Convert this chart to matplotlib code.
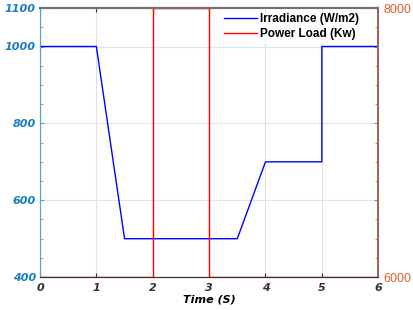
import matplotlib
matplotlib.use("Agg")
import matplotlib.pyplot as plt
from matplotlib.ticker import MultipleLocator
from matplotlib.font_manager import FontProperties

time_irr = [0, 1, 1.5, 3.5, 4, 5, 5, 6]
irradiance = [1000, 1000, 500, 500, 700, 700, 1000, 1000]
time_load = [0, 2, 2, 3, 3, 6]
power_load = [6000, 6000, 8000, 8000, 6000, 6000]

fig = plt.figure(figsize=(4.14, 3.10), dpi=100)
ax = fig.add_axes([0.0966, 0.106, 0.817, 0.868])
ax2 = ax.twinx()

l1, = ax.plot(time_irr, irradiance, color='#0000ff', lw=1.0, label='Irradiance (W/m2)')
l2, = ax2.plot(time_load, power_load, color='#ff0000', lw=1.0, label='Power Load (Kw)')

ax.set_xlim(0, 6)
ax.set_ylim(400, 1100)
ax2.set_ylim(6000, 8000)
ax.set_xticks(range(0, 7))
ax.set_yticks([400, 600, 800, 1000, 1100])
ax.yaxis.set_minor_locator(MultipleLocator(50))
ax2.set_yticks([6000, 8000])

ax.grid(True, axis='x', color='#e0e0e0', lw=0.8)
ax.grid(True, axis='y', color='#dce8f0', lw=0.8)
ax.set_axisbelow(True)

for lab in ax.get_xticklabels():
    lab.set_fontweight('bold'); lab.set_fontstyle('italic'); lab.set_fontsize(8)
for lab in ax.get_yticklabels():
    lab.set_fontweight('bold'); lab.set_fontstyle('italic'); lab.set_fontsize(8); lab.set_color('#1a7cc0')
for lab in ax2.get_yticklabels():
    lab.set_fontsize(9); lab.set_color('#e0602a'); lab.set_family(['Liberation Sans', 'DejaVu Sans'])

ax.tick_params(axis='x', direction='in', length=3, colors='#333333', pad=4, top=True)
ax.tick_params(axis='y', which='both', direction='in', right=True, color='#5a9fd0', pad=3)
ax.tick_params(axis='y', which='major', length=3)
ax.tick_params(axis='y', which='minor', length=2)
ax2.tick_params(axis='y', direction='in', length=0, pad=4)

ax.set_xlabel('Time (S)', fontsize=8, fontweight='bold', fontstyle='italic', labelpad=1)

for a in (ax, ax2):
    a.spines['top'].set_color('#707070')
    a.spines['top'].set_linewidth(1.5)
    a.spines['left'].set_color('#5a9fd0')
    a.spines['right'].set_color('#a06050')
    a.spines['right'].set_linewidth(1.2)
    a.spines['bottom'].set_color('#333333')

legprop = FontProperties(family=['Liberation Sans', 'DejaVu Sans'], weight='bold', size=8.5)
leg = ax2.legend([l1, l2], ['Irradiance (W/m2)', 'Power Load (Kw)'], loc='upper right',
                 bbox_to_anchor=(0.955, 0.995),
                 frameon=True, fancybox=False, edgecolor='white',
                 borderaxespad=0.0, borderpad=0.3, handlelength=2.8, handletextpad=0.3,
                 labelspacing=0.3, prop=legprop)
leg.get_frame().set_linewidth(0)

fig.savefig('out.png', dpi=100)
